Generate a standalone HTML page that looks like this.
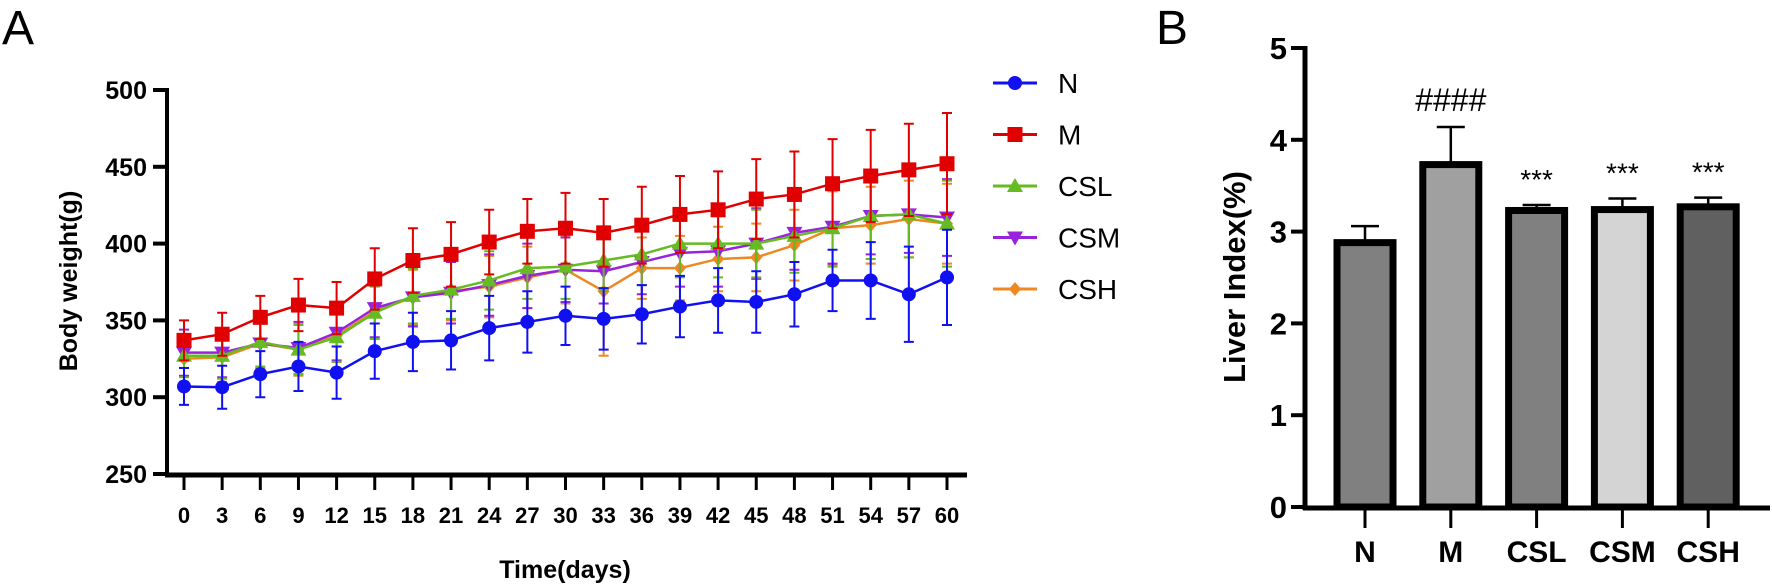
<!DOCTYPE html>
<html><head><meta charset="utf-8"><style>
body{margin:0;background:#fff}
svg{display:block}
text{font-family:"Liberation Sans",Arial,sans-serif}
</style></head><body>
<svg id="c" width="1772" height="588" xmlns="http://www.w3.org/2000/svg"></svg>
<script>
const days=[0,3,6,9,12,15,18,21,24,27,30,33,36,39,42,45,48,51,54,57,60];
const seriesNames=["N","M","CSL","CSM","CSH"];
const seriesColors=["#1010f0","#e00000","#66bb22","#9922dd","#ee8822"];
const valsN=[307,306.5,315,320,316,330,336,337,345,349,353,351,354,359,363,362,367,376,376,367,378];
const valsM=[337,341,352,360,358,377,389,393,401,408,410,407,412,419,422,429,432,439,444,448,452];
const valsCSL=[327,327,336,331,339,355,366,370,376,384,385,389,393,400,400,400,405,410,418,419,413];
const valsCSM=[329,329,335,332,342,358,365,368,373,379,383,382,388,394,395,400,407,411,418,419,417];
const valsCSH=[325,326,335,331,340,356,365,369,372,378,383,369,384,384,390,391,399,410,412,416,413];
const errN=[12,14,15,16,17,18,19,19,21,20,19,20,19,20,21,20,21,20,25,31,31];
const errM=[13,14,14,17,17,20,21,21,21,21,23,22,25,25,25,26,28,29,30,30,33];
const errCSL=[14,15,16,16,16,17,18,19,19,20,21,20,20,22,22,22,24,25,28,28,28];
const errCSM=[15,16,17,17,18,19,19,20,20,21,21,21,21,22,23,23,24,24,25,25,25];
const errCSH=[15,16,16,17,17,18,18,19,20,20,22,42,20,21,21,22,23,24,25,25,26];
const yTicksA=[250,300,350,400,450,500];
const barCats=["N","M","CSL","CSM","CSH"];
const barVals=[2.88,3.73,3.23,3.24,3.27];
const barErr=[0.18,0.41,0.06,0.12,0.10];
const barFills=["#808080","#a0a0a0","#808080","#d4d4d4","#606060"];
const barNotes=["","####","***","***","***"];
const yTicksB=[0,1,2,3,4,5];

const NS="http://www.w3.org/2000/svg";
const svg=document.getElementById('c');
function mk(tag,attrs,parent){const e=document.createElementNS(NS,tag);for(const k in attrs)e.setAttribute(k,attrs[k]);(parent||svg).appendChild(e);return e;}
function txt(s,attrs,parent){const e=mk('text',attrs,parent);e.textContent=s;return e;}

// Panel A
const xA=d=>184+(d/60)*763;
const yA=v=>474-(v-250)*(384/250);
let t=txt("A",{x:2,y:44,"font-family":"Liberation Serif","font-size":48});

const gA=mk('g',{});

let ax=mk('line',{x1:167,y1:88,x2:167,y2:477,stroke:"#000","stroke-width":4},gA);

ax=mk('line',{x1:165,y1:475,x2:967,y2:475,stroke:"#000","stroke-width":5},gA);

yTicksA.forEach(v=>{
  const l=mk('line',{x1:153,x2:167,y1:yA(v),y2:yA(v),stroke:"#000","stroke-width":4},gA);
  
  const e=txt(String(v),{x:147,y:yA(v)+9,"text-anchor":"end","font-size":25,"font-weight":"bold"},gA);
  
});
days.forEach(d=>{
  const l=mk('line',{x1:xA(d),x2:xA(d),y1:475,y2:490,stroke:"#000","stroke-width":3},gA);
  
  const e=txt(String(d),{x:xA(d),y:523,"text-anchor":"middle","font-size":22,"font-weight":"bold"},gA);
  
});
t=txt("Body weight(g)",{x:0,y:0,transform:"translate(77,281) rotate(-90)","text-anchor":"middle","font-size":25,"font-weight":"bold"},gA);

t=txt("Time(days)",{x:565,y:578,"text-anchor":"middle","font-size":25,"font-weight":"bold"},gA);


const allVals=[valsN,valsM,valsCSL,valsCSM,valsCSH];
const allErr=[errN,errM,errCSL,errCSM,errCSH];
function marker(i,x,y,g){
  const c=seriesColors[i];let m;
  if(i===0)m=mk('circle',{cx:x,cy:y,r:7,fill:c},g);
  else if(i===1)m=mk('rect',{x:x-7.5,y:y-7.5,width:15,height:15,fill:c},g);
  else if(i===2)m=mk('polygon',{points:`${x},${y-8} ${x-8},${y+6} ${x+8},${y+6}`,fill:c},g);
  else if(i===3)m=mk('polygon',{points:`${x},${y+8} ${x-8},${y-6} ${x+8},${y-6}`,fill:c},g);
  else m=mk('polygon',{points:`${x},${y-7} ${x-6},${y} ${x},${y+7} ${x+6},${y}`,fill:c},g);
  return m;
}
[4,3,2,1,0].forEach(i=>{
  const g=mk('g',{},gA);
  
  const c=seriesColors[i];
  days.forEach((d,k)=>{
    const x=xA(d),v=allVals[i][k],e=allErr[i][k];
    const l=mk('path',{d:`M${x},${yA(v-e)}V${yA(v+e)}M${x-5},${yA(v-e)}h10M${x-5},${yA(v+e)}h10`,stroke:c,"stroke-width":2,fill:"none"},g);
    
  });
  const p=mk('polyline',{points:days.map((d,k)=>xA(d)+','+yA(allVals[i][k])).join(' '),fill:"none",stroke:c,"stroke-width":2.5},g);
  
  days.forEach((d,k)=>{
    const m=marker(i,xA(d),yA(allVals[i][k]),g);
    
  });
});
const lg=mk('g',{});

seriesNames.forEach((n,i)=>{
  const y=83+i*51.5;
  const g=mk('g',{},lg);
  
  mk('line',{x1:993,x2:1037,y1:y,y2:y,stroke:seriesColors[i],"stroke-width":3},g);
  marker(i,1015,y,g);
  txt(n,{x:1058,y:y+10,"font-size":28},g);
});

// Panel B
const xB=i=>1365+i*85.8;
const yB=v=>507-v*91.8;
t=txt("B",{x:1156,y:44,"font-family":"Liberation Serif","font-size":48});

const gB=mk('g',{});

ax=mk('line',{x1:1305,y1:46,x2:1305,y2:510,stroke:"#000","stroke-width":5},gB);

ax=mk('line',{x1:1303,y1:508,x2:1770,y2:508,stroke:"#000","stroke-width":5},gB);

yTicksB.forEach(v=>{
  const l=mk('line',{x1:1291,x2:1305,y1:yB(v),y2:yB(v),stroke:"#000","stroke-width":4},gB);
  
  const e=txt(String(v),{x:1287,y:yB(v)+11,"text-anchor":"end","font-size":31,"font-weight":"bold"},gB);
  
});
t=txt("Liver Index(%)",{x:0,y:0,transform:"translate(1245,277) rotate(-90)","text-anchor":"middle","font-size":31,"font-weight":"bold"},gB);

barCats.forEach((c,i)=>{
  const x=xB(i),v=barVals[i],e=barErr[i];
  const g=mk('g',{},gB);
  
  mk('path',{d:`M${x},${yB(v)}V${yB(v+e)}M${x-14},${yB(v+e)}h28`,stroke:"#000","stroke-width":2.5,fill:"none"},g);
  mk('rect',{x:x-28,y:yB(v),width:56,height:yB(0)-yB(v),fill:barFills[i],stroke:"#000","stroke-width":7},g);
  const tk=mk('line',{x1:x,x2:x,y1:508,y2:528,stroke:"#000","stroke-width":3},g);
  const l=txt(c,{x:x,y:562,"text-anchor":"middle","font-size":30,"font-weight":"bold"},gB);
  
  if(barNotes[i]){
    const n=txt(barNotes[i],{x:x,y:yB(v+e)-16,"text-anchor":"middle","font-size":barNotes[i][0]==="#"?32:28},gB);
    
  }
});
</script>
</body></html>
